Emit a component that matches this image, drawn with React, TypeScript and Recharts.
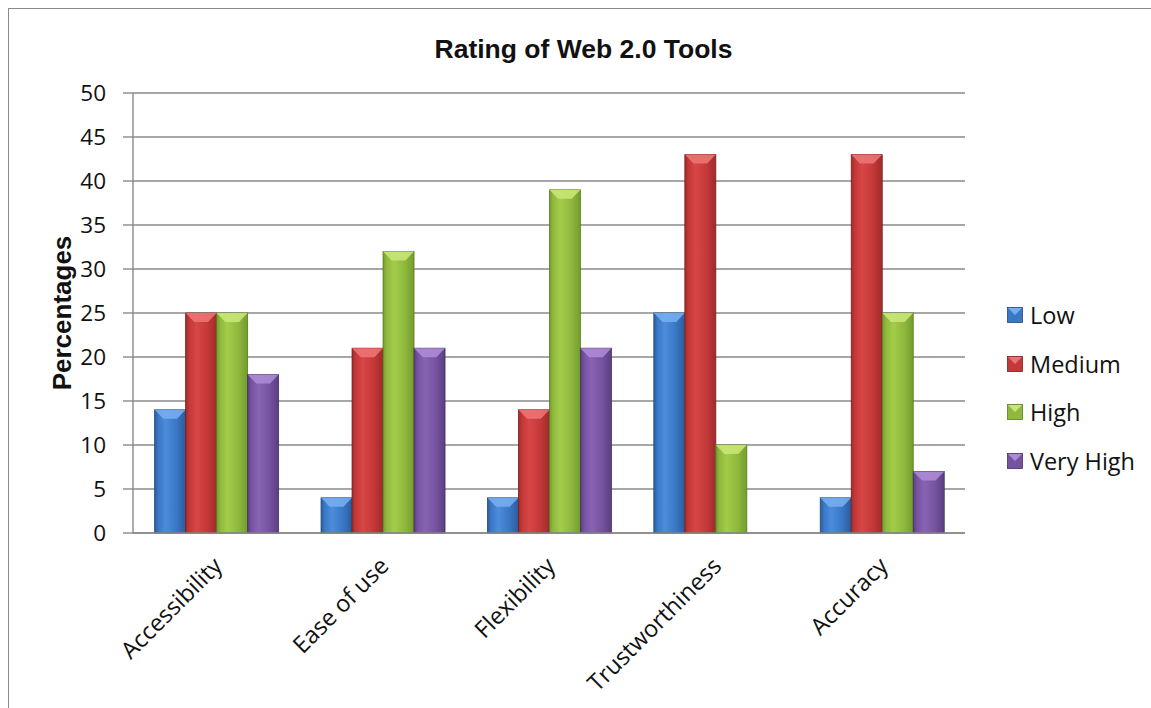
import { BarChart, Bar, XAxis, YAxis, CartesianGrid, Legend, Label } from 'recharts'

const categories = ['Accessibility', 'Ease of use', 'Flexibility', 'Trustworthiness', 'Accuracy']
const low = [14, 4, 4, 25, 4]
const medium = [25, 21, 14, 43, 43]
const high = [25, 32, 39, 10, 25]
const veryHigh = [18, 21, 21, 0, 7]
const yTicks = [0, 5, 10, 15, 20, 25, 30, 35, 40, 45, 50]

interface Tone {
  key: string
  name: string
  dark: string
  base: string
  light: string
  top: string
  edge: string
}

const tones: Tone[] = [
  { key: 'low', name: 'Low', dark: '#2b5c9c', base: '#3a78c6', light: '#4c8cdb', top: '#74aef0', edge: '#24487a' },
  { key: 'medium', name: 'Medium', dark: '#9e2b2b', base: '#c53838', light: '#d84646', top: '#ec7373', edge: '#7a2020' },
  { key: 'high', name: 'High', dark: '#739c2e', base: '#8fb93d', light: '#a2cc49', top: '#c8e676', edge: '#5a7a22' },
  { key: 'veryHigh', name: 'Very High', dark: '#5b3e82', base: '#7653a0', light: '#8863b3', top: '#ad8ad6', edge: '#45305f' },
]

const data = categories.map((name, i) => ({
  name,
  low: low[i],
  medium: medium[i],
  high: high[i],
  veryHigh: veryHigh[i],
}))

const FONT = '"Open Sans", Lato, sans-serif'
const HEAD_FONT = '"Liberation Sans", Arial, sans-serif'
const GRID = '#8a8a8a'

// Column with a horizontal sheen and a bevelled top face
function BevelBar(props: any) {
  const { x, y, width, height, tone } = props
  if (!height || height <= 0) return null
  const bevel = Math.min(9, height / 2)
  return (
    <g>
      <rect x={x} y={y} width={width} height={height} fill={`url(#grad-${tone.key})`} stroke={tone.edge} strokeWidth={0.8} />
      <polygon
        points={`${x},${y} ${x + width},${y} ${x + width * 0.72},${y + bevel} ${x + width * 0.28},${y + bevel}`}
        fill={tone.top}
        opacity={0.9}
      />
    </g>
  )
}

function CategoryTick(props: any) {
  const { x, y, payload } = props
  const ax = x - 5
  const ay = y + 14
  return (
    <text
      x={ax}
      y={ay}
      dy="0.75em"
      textAnchor="end"
      transform={`rotate(-45 ${ax} ${ay})`}
      fontFamily={FONT}
      fontSize={23.5}
      fill="#111"
    >
      {payload.value}
    </text>
  )
}

function Swatch({ tone }: { tone: Tone }) {
  return (
    <svg width={16} height={16}>
      <rect x={0.5} y={0.5} width={15} height={15} fill={tone.base} stroke={tone.edge} strokeWidth={0.8} />
      <polygon points="1,1 15,1 8,8" fill={tone.top} />
    </svg>
  )
}

const renderLegend = () => (
  <div style={{ paddingLeft: 42, fontFamily: FONT }}>
    {tones.map((t) => (
      <div key={t.key} style={{ display: 'flex', alignItems: 'center', height: 48.5, whiteSpace: 'nowrap' }}>
        <Swatch tone={t} />
        <span style={{ marginLeft: 7, fontSize: 23.5, color: '#111' }}>{t.name}</span>
      </div>
    ))}
  </div>
)

export default function App() {
  return (
    <div style={{ position: 'fixed', left: 0, top: 0, width: 1151, height: 708, overflow: 'hidden', background: '#fff' }}>
      {/* outer frame */}
      <div
        style={{
          position: 'absolute',
          left: 8,
          top: 8,
          width: 1300,
          height: 900,
          borderLeft: '1px solid #8a8a8a',
          borderTop: '1px solid #8a8a8a',
        }}
      />
      <div
        style={{
          position: 'absolute',
          left: 0,
          top: 34,
          width: 1167,
          textAlign: 'center',
          fontFamily: HEAD_FONT,
          fontWeight: 700,
          fontSize: 26.5,
          lineHeight: '30px',
          color: '#111',
        }}
      >
        Rating of Web 2.0 Tools
      </div>
      <div style={{ position: 'absolute', left: 0, top: 0 }}>
        <BarChart
          width={1151}
          height={708}
          data={data}
          margin={{ top: 93, right: 16, bottom: 15, left: 40 }}
          barCategoryGap="13%"
          barGap={0}
        >
          <defs>
            {tones.map((t) => (
              <linearGradient key={t.key} id={`grad-${t.key}`} x1="0" y1="0" x2="1" y2="0">
                <stop offset="0%" stopColor={t.dark} />
                <stop offset="12%" stopColor={t.base} />
                <stop offset="35%" stopColor={t.light} />
                <stop offset="70%" stopColor={t.base} />
                <stop offset="100%" stopColor={t.dark} />
              </linearGradient>
            ))}
          </defs>
          <CartesianGrid vertical={false} stroke={GRID} strokeWidth={1.4} />
          <XAxis
            dataKey="name"
            interval={0}
            height={160}
            tickLine={false}
            axisLine={{ stroke: GRID, strokeWidth: 1.4 }}
            tick={<CategoryTick />}
          />
          <YAxis
            width={93}
            domain={[0, 50]}
            ticks={yTicks}
            interval={0}
            tickSize={10}
            tickMargin={17}
            axisLine={{ stroke: GRID, strokeWidth: 1.4 }}
            tickLine={{ stroke: GRID, strokeWidth: 1.4 }}
            tick={{ fontFamily: FONT, fontSize: 22.5, fill: '#111' }}
          >
            <Label
              content={({ viewBox }: any) => {
                const cx = viewBox.x + 22
                const cy = viewBox.y + viewBox.height / 2
                return (
                  <text
                    x={cx}
                    y={cy}
                    textAnchor="middle"
                    dominantBaseline="central"
                    transform={`rotate(-90 ${cx} ${cy})`}
                    fontFamily={HEAD_FONT}
                    fontWeight={700}
                    fontSize={26}
                    fill="#111"
                  >
                    Percentages
                  </text>
                )
              }}
            />
          </YAxis>
          <Legend
            layout="vertical"
            align="right"
            verticalAlign="middle"
            width={170}
            wrapperStyle={{ top: 291 }}
            content={renderLegend}
          />
          {tones.map((t) => (
            <Bar
              key={t.key}
              dataKey={t.key}
              name={t.name}
              fill={t.base}
              isAnimationActive={false}
              shape={(p: any) => <BevelBar {...p} tone={t} />}
            />
          ))}
        </BarChart>
      </div>
    </div>
  )
}
